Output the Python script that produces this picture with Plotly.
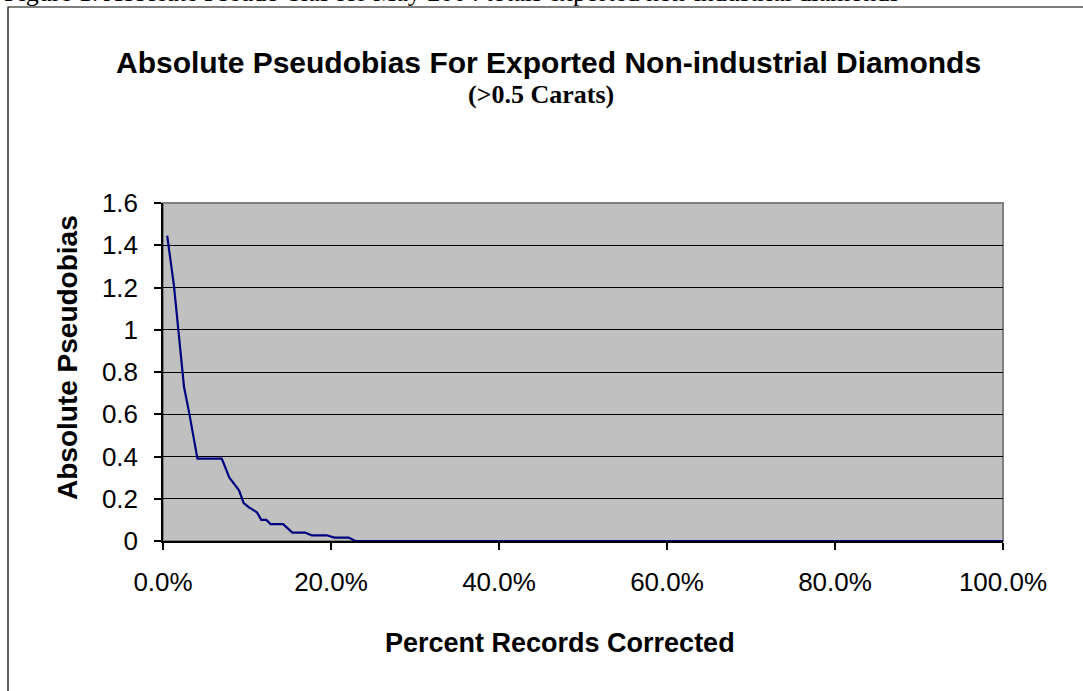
import plotly.graph_objects as go

# Share of records corrected (fraction) and the resulting absolute pseudobias
pct_corrected = [0.005, 0.013, 0.025, 0.031, 0.041, 0.070, 0.079, 0.0905, 0.096,
                 0.102, 0.112, 0.117, 0.123, 0.128, 0.143, 0.154, 0.169, 0.177,
                 0.195, 0.204, 0.221, 0.229, 1.0]
abs_pseudobias = [1.445, 1.21, 0.73, 0.61, 0.39, 0.39, 0.30, 0.24, 0.18,
                  0.16, 0.135, 0.10, 0.10, 0.08, 0.08, 0.04, 0.04, 0.027,
                  0.027, 0.016, 0.016, 0.0, 0.0]

x_ticks = [0, 0.2, 0.4, 0.6, 0.8, 1.0]
y_ticks = [0, 0.2, 0.4, 0.6, 0.8, 1.0, 1.2, 1.4, 1.6]

W, H = 1083, 691
L, R, T, B = 163, 80, 203, 150
plot_w = W - L - R
plot_h = H - T - B


def px(x):
    return (x - L) / plot_w


def py(y):
    return (H - B - y) / plot_h


fig = go.Figure()
fig.add_trace(go.Scatter(
    x=pct_corrected, y=abs_pseudobias, mode="lines",
    line=dict(color="#000080", width=2.2), hoverinfo="skip", showlegend=False,
))

sans = "Arial, Liberation Sans, sans-serif"
serif = "Times New Roman, Liberation Serif, serif"

fig.update_layout(
    width=W, height=H,
    margin=dict(l=L, r=R, t=T, b=B, pad=0),
    paper_bgcolor="white", plot_bgcolor="#c0c0c0",
    showlegend=False,
    font=dict(family=sans, color="black"),
    xaxis=dict(
        range=[0, 1], tickvals=x_ticks, tickformat=".1%",
        showgrid=False, zeroline=False,
        showline=True, linecolor="black", linewidth=1.5,
        ticks="outside", ticklen=7, tickcolor="black", tickwidth=1.5,
        ticklabelstandoff=10,
        tickfont=dict(size=26, family=sans), fixedrange=True,
    ),
    yaxis=dict(
        range=[0, 1.6], tickvals=y_ticks,
        showgrid=True, gridcolor="black", gridwidth=1.2, zeroline=False,
        showline=True, linecolor="black", linewidth=1.5,
        ticks="outside", ticklen=7, tickcolor="black", tickwidth=1.5,
        ticklabelstandoff=11,
        tickfont=dict(size=26, family=sans), fixedrange=True,
    ),
    shapes=[
        # grey frame of the plot area (top/right edges)
        dict(type="rect", xref="paper", yref="paper", x0=0, y0=0, x1=1, y1=1,
             line=dict(color="#808080", width=2), layer="below"),
        # outer chart border
        dict(type="rect", xref="paper", yref="paper",
             x0=px(8), y0=py(H + 20), x1=px(W + 20), y1=py(7),
             line=dict(color="black", width=1.2), layer="below"),
    ],
    annotations=[
        dict(text="<b>Absolute Pseudobias For Exported Non-industrial Diamonds</b>",
             xref="paper", yref="paper", x=px(548), y=py(62),
             xanchor="center", yanchor="middle", showarrow=False,
             font=dict(size=30, family=sans)),
        dict(text="<b>(>0.5 Carats)</b>",
             xref="paper", yref="paper", x=px(541), y=py(95),
             xanchor="center", yanchor="middle", showarrow=False,
             font=dict(size=26, family=serif)),
        dict(text="<b>Percent Records Corrected</b>",
             xref="paper", yref="paper", x=px(560), y=py(643),
             xanchor="center", yanchor="middle", showarrow=False,
             font=dict(size=27, family=sans)),
        dict(text="<b>Absolute Pseudobias</b>",
             xref="paper", yref="paper", x=px(67), y=py(358),
             xanchor="center", yanchor="middle", showarrow=False,
             textangle=-90, font=dict(size=28, family=sans)),
        dict(text="Figure 1: Absolute Pseudo-bias for May 2004 totals exported non-industrial diamonds",
             xref="paper", yref="paper", x=px(2), y=py(9),
             xanchor="left", yanchor="bottom", showarrow=False,
             font=dict(size=26, family=serif)),
    ],
)

fig.write_html("out.html")
